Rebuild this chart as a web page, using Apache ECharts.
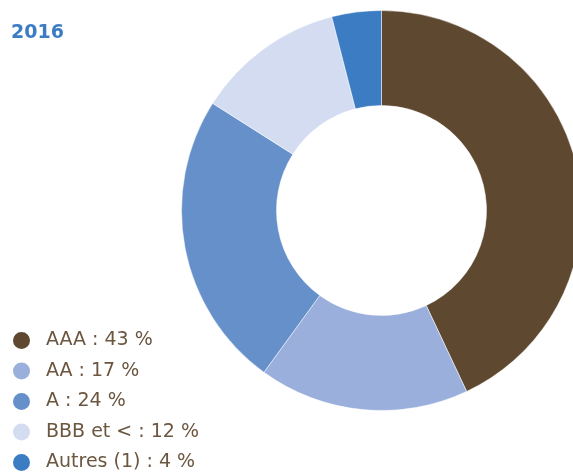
<!DOCTYPE html>
<html>
<head>
<meta charset="utf-8">
<script src="https://cdn.jsdelivr.net/npm/echarts@6/dist/echarts.min.js"></script>
<style>
  html, body { margin: 0; padding: 0; background: #fff; }
  #main { width: 573px; height: 473px; }
</style>
</head>
<body>
<div id="main"></div>
<script>
// notations
var categories = ['AAA', 'AA', 'A', 'BBB et <', 'Autres (1)'];
var values = [43, 17, 24, 12, 4];
var colors = ['#5f4830', '#9aafdc', '#6690ca', '#d3dcf0', '#3b7cc3'];

var chart = echarts.init(document.getElementById('main'));

var pieData = categories.map(function (name, i) {
  return { name: name, value: values[i], itemStyle: { color: colors[i] } };
});

var option = {
  animation: false,
  title: {
    text: '2016',
    left: 6,
    top: 19,
    textStyle: {
      color: '#3b7cc3',
      fontSize: 19,
      fontWeight: 'bold',
      fontFamily: 'DejaVu Sans'
    }
  },
  legend: {
    orient: 'vertical',
    left: 11,
    top: 330,
    height: 200,
    padding: 0,
    icon: 'circle',
    itemWidth: 19,
    itemHeight: 19,
    itemGap: 9.5,
    data: categories,
    formatter: function (name) {
      return name + ' : ' + values[categories.indexOf(name)] + ' %';
    },
    textStyle: {
      color: '#6b5640',
      fontSize: 19,
      lineHeight: 19,
      fontFamily: 'DejaVu Sans',
      padding: [0, 0, 0, 10]
    }
  },
  series: [{
    type: 'pie',
    center: [381.5, 210.5],
    radius: [105, 200],
    startAngle: 90,
    clockwise: true,
    label: { show: false },
    labelLine: { show: false },
    itemStyle: { borderColor: '#ffffff', borderWidth: 0.5 },
    emphasis: { disabled: true },
    data: pieData
  }]
};

chart.setOption(option);
</script>
</body>
</html>
